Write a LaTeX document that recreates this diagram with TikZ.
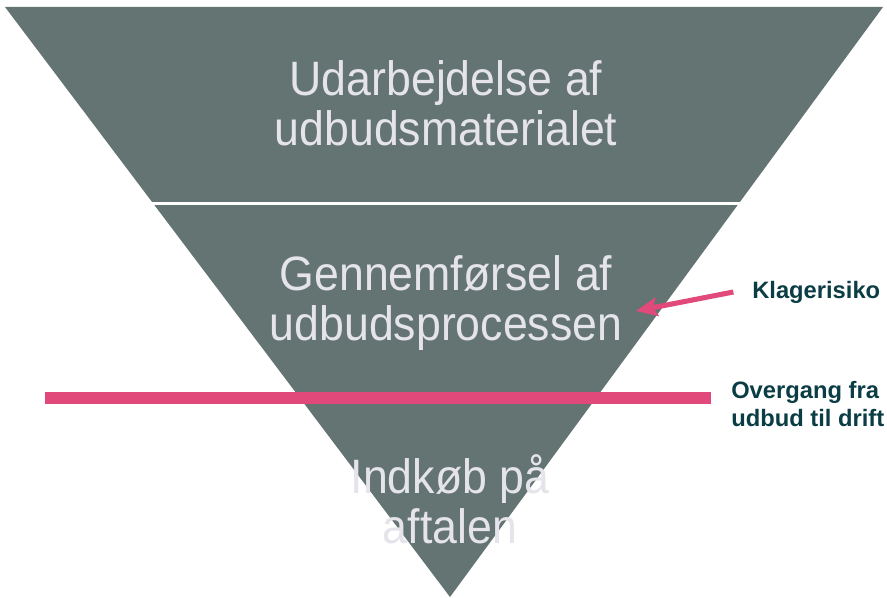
\documentclass[tikz,border=0pt]{standalone}
\usepackage{fontspec}
\setmainfont{Liberation Sans}
\usetikzlibrary{positioning,arrows.meta}
\definecolor{funnelgray}{HTML}{647473}
\definecolor{stagetext}{HTML}{E4E4EA}
\definecolor{riskpink}{HTML}{E0497A}
\definecolor{notetext}{HTML}{0B3D45}

\begin{document}
\begin{tikzpicture}[x=0.75pt, y=-0.75pt,
  stage/.style={text=stagetext, font=\fontsize{33.5}{34.7}\selectfont, align=center, inner sep=0pt, yscale=1.08, transform shape},
  note/.style={text=notetext, font=\bfseries\fontsize{17.8}{21}\selectfont, align=left, anchor=west, inner sep=0pt},
  pinkline/.style={riskpink, line width=9pt},
  riskarrow/.style={riskpink, line width=3.8pt, -{Stealth[length=16pt, width=14pt, inset=3pt]}}]
\useasboundingbox (0,0) rectangle (887,598);
% funnel
\fill[funnelgray] (5,7) -- (883,7) -- (450,597) -- cycle;
\draw[white, line width=2.5pt] (140,203.5) -- (750,203.5);
\node[stage] (top)    at (446,103) {Udarbejdelse af\\udbudsmaterialet};
\node[stage] (middle) at (446,303) {Gennemførsel af\\udbudsprocessen};
\node[stage] (bottom) at (450,499) {Indkøb på\\aftalen};
% notes
\node[note] (klage)   at (752,292) {Klagerisiko};
\node[note] (overgang) at (731,404) {Overgang fra\\udbud til drift};
\coordinate (risk) at (636,311);
\coordinate (barL) at (45,398);
\coordinate (barR) at (711,398);
\draw[pinkline] (barL) -- (barR);
\draw[riskarrow] ([xshift=-14pt]klage.west) -- (risk);
\end{tikzpicture}
\end{document}
